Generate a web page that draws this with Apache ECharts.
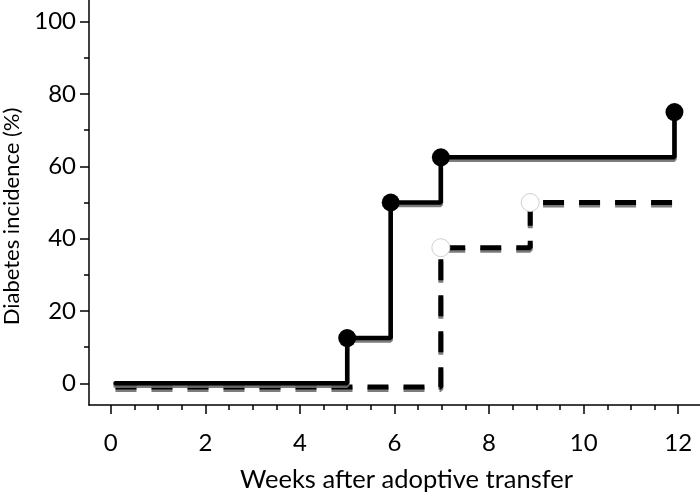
<!DOCTYPE html>
<html>
<head>
<meta charset="utf-8">
<script src="https://cdn.jsdelivr.net/npm/echarts@6/dist/echarts.min.js"></script>
<style>html,body{margin:0;padding:0;background:#fff}#c{width:700px;height:497px}</style>
</head>
<body>
<div id="c"></div>
<script>
// Data (weeks, incidence %)
var solidX = [0.1, 5, 5.92, 6.98, 11.92];
var solidY = [0, 12.5, 50, 62.5, 75];
var solidMarked = [false, true, true, true, true];

var dashX = [0.1, 6.98, 8.87, 11.98];
var dashY = [-1, 37.5, 50, 50];
var dashMarked = [false, true, true, false];

var xTicks = [0, 2, 4, 6, 8, 10, 12];
var xMinorTicks = [0.5, 1, 1.5, 2.5, 3, 3.5, 4.5, 5, 5.5, 6.5, 7, 7.5, 8.5, 9, 9.5, 10.5, 11, 11.5];
var yTicks = [0, 20, 40, 60, 80, 100];
var yMinorTicks = [10, 30, 50, 70, 90];

var xName = 'Weeks after adoptive transfer';
var yName = 'Diabetes incidence (%)';

var FONT = 'Lato';

function build(xs, ys, marks) {
  return xs.map(function (x, i) {
    var d = { value: [x, ys[i]] };
    if (!marks[i]) d.symbol = 'none';
    return d;
  });
}

var chart = echarts.init(document.getElementById('c'), null, { renderer: 'canvas' });

var baseX = { type: 'value', min: -0.46, max: 12.46, splitLine: { show: false } };
var baseY = { type: 'value', min: -6, max: 106, splitLine: { show: false } };

chart.setOption({
  animation: false,
  backgroundColor: '#fff',
  grid: { left: 89, right: 0, top: 0, bottom: 92, containLabel: false, outerBoundsMode: 'none' },
  xAxis: [
    Object.assign({}, baseX, {
      position: 'bottom',
      axisLine: { show: true, onZero: false, lineStyle: { color: '#000', width: 1.5 } },
      axisTick: { show: true, customValues: xTicks, length: 9, lineStyle: { color: '#000', width: 1.5 } },
      axisLabel: { show: true, customValues: xTicks, color: '#000', fontSize: 24, fontFamily: FONT, margin: 26 },
      name: xName, nameLocation: 'middle', nameGap: 62,
      nameTextStyle: { color: '#000', fontSize: 25.5, fontFamily: FONT, padding: [0, 0, 0, 24] }
    }),
    Object.assign({}, baseX, {
      position: 'bottom',
      axisLine: { show: false, onZero: false },
      axisTick: { show: true, customValues: xMinorTicks, length: 5, lineStyle: { color: '#000', width: 1.5 } },
      axisLabel: { show: false }
    })
  ],
  yAxis: [
    Object.assign({}, baseY, {
      position: 'left',
      axisLine: { show: true, onZero: false, lineStyle: { color: '#000', width: 1.5 } },
      axisTick: { show: true, customValues: yTicks, length: 9, lineStyle: { color: '#000', width: 1.5 } },
      axisLabel: { show: true, customValues: yTicks, color: '#000', fontSize: 24, fontFamily: FONT, margin: 13 },
      name: yName, nameLocation: 'middle', nameGap: 66,
      nameTextStyle: { color: '#000', fontSize: 22, fontFamily: FONT, padding: [0, 28, 0, 0] }
    }),
    Object.assign({}, baseY, {
      position: 'left',
      axisLine: { show: false, onZero: false },
      axisTick: { show: true, customValues: yMinorTicks, length: 5, lineStyle: { color: '#000', width: 1.5 } },
      axisLabel: { show: false }
    })
  ],
  series: [
    {
      type: 'line', step: 'end', xAxisIndex: 0, yAxisIndex: 0,
      data: build(dashX, dashY, dashMarked),
      symbol: 'circle', symbolSize: 18,
      itemStyle: { color: '#fff', borderColor: '#d0d0d0', borderWidth: 1 },
      lineStyle: { color: '#000', width: 5, type: [21, 15], cap: 'butt',
        shadowColor: 'rgba(110,110,110,0.9)', shadowOffsetY: 2.5, shadowBlur: 0.5 },
      z: 3
    },
    {
      type: 'line', step: 'end', xAxisIndex: 0, yAxisIndex: 0,
      data: build(solidX, solidY, solidMarked),
      symbol: 'circle', symbolSize: 18,
      itemStyle: { color: '#000' },
      lineStyle: { color: '#000', width: 4.5, cap: 'round',
        shadowColor: 'rgba(110,110,110,0.9)', shadowOffsetY: 2.5, shadowBlur: 0.5 },
      z: 4
    }
  ]
});
</script>
</body>
</html>
